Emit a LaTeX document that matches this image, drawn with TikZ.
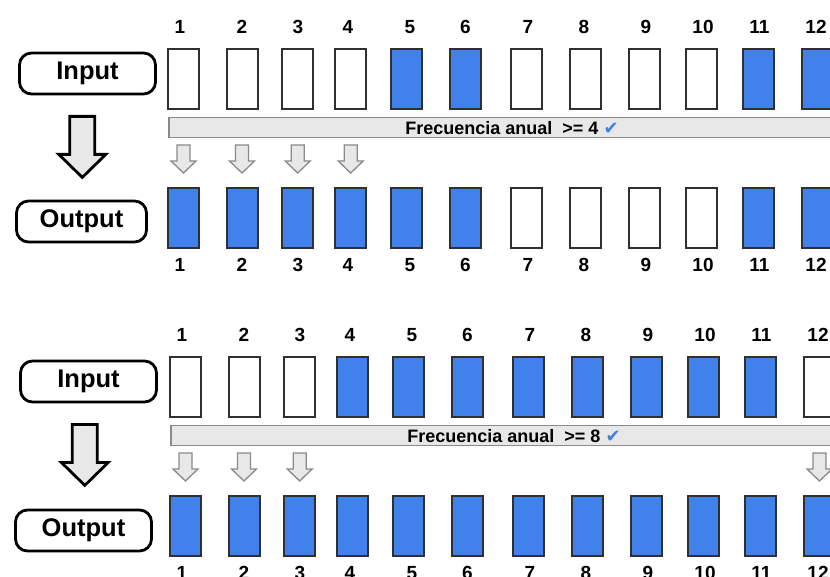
\documentclass[tikz,border=0pt]{standalone}
\usepackage{fontspec}
\setmainfont{Liberation Sans}
\newfontfamily\symfont{DejaVu Sans}
\usepackage{tikz}
\usetikzlibrary{calc}
\definecolor{slotblue}{HTML}{4181EC}
\definecolor{slotedge}{HTML}{303030}
\definecolor{barfill}{HTML}{E8E8E8}
\definecolor{baredge}{HTML}{8A8A8A}
\definecolor{tickblue}{HTML}{3F7FE6}
\newcommand{\okmark}{{\symfont\color{tickblue}\char"2714}}
\tikzset{
  slot/.style     = {rectangle, draw=slotedge, line width=2pt, fill=white,
                     minimum width=31pt, minimum height=60pt, inner sep=0pt},
  num/.style      = {font=\fontsize{19}{20}\selectfont\bfseries, inner sep=0pt,
                     text height=13.6pt, text depth=0pt},
  tag/.style      = {rectangle, rounded corners=12pt, draw=black, line width=2.8pt,
                     fill=white, minimum height=41pt, inner sep=0pt,
                     font=\fontsize{25.5}{28}\selectfont\bfseries},
  bar/.style      = {rectangle, draw=baredge, line width=1.5pt, fill=barfill,
                     minimum height=20pt, inner sep=0pt, anchor=west},
  bartext/.style  = {font=\fontsize{18}{19}\selectfont\bfseries, inner sep=0pt},
  bigarr/.style   = {draw=black, line width=2.8pt, fill=barfill, line join=miter},
  smallarr/.style = {draw=baredge, line width=1.3pt, fill=barfill},
}

\begin{document}
\begin{tikzpicture}[x=1pt,y=-1pt]
  \useasboundingbox (0,0) rectangle (830,577);
  % panel a: frecuencia anual >= 4
  \begin{scope}
    \node[tag, minimum width=136pt] (ain) at (87.5,73.5) {Input};
    \node[tag, minimum width=130pt] (aout) at (81.5,221.5) {Output};
    \draw[bigarr] (ain.south) ++(-17.7,21) -- ++(25,0) -- ++(0,38) -- ++(11,0)
      -- ++(-23.5,23) -- ++(-23.5,-23) -- ++(11,0) -- cycle;
    \node[bar, minimum width=680pt] (abar) at (168,127.5) {};
    \node[bartext] (alabel) at (512,128) {Frecuencia anual\ \ >= 4 \okmark};
    \foreach \i/\bx/\nx/\ci/\co in {1/183.5/180/white/slotblue, 2/242/242/white/slotblue,
        3/297.7/298/white/slotblue, 4/350.7/348/white/slotblue, 5/406.3/410/slotblue/slotblue,
        6/465/465.5/slotblue/slotblue, 7/526.3/528/white/white, 8/585.7/584/white/white,
        9/644.7/646/white/white, 10/701.5/703/white/white, 11/758/759.5/slotblue/slotblue,
        12/817.5/816/slotblue/slotblue}{
      \node[slot, fill=\ci] (ai\i) at (\bx,79) {};
      \node[slot, fill=\co] (ao\i) at (\bx,218) {};
      \node[num] (ani\i) at (\nx,26.5) {\i};
      \node[num] (ano\i) at (\nx,265) {\i};
    }
    \foreach \i in {1,2,3,4}{
      \draw[smallarr] (ai\i.south) ++(-6.5,35) -- ++(13,0) -- ++(0,16) -- ++(6,0)
        -- ++(-12.5,12) -- ++(-12.5,-12) -- ++(6,0) -- cycle;
    }
  \end{scope}
  % panel b: frecuencia anual >= 8
  \begin{scope}[shift={(2,308)}]
    \node[tag, minimum width=136pt] (bin) at (86.5,73.5) {Input};
    \node[tag, minimum width=136pt] (bout) at (81.5,222.5) {Output};
    \draw[bigarr] (bin.south) ++(-16.2,21) -- ++(25,0) -- ++(0,38) -- ++(11,0)
      -- ++(-23.5,23) -- ++(-23.5,-23) -- ++(11,0) -- cycle;
    \node[bar, minimum width=680pt] (bbar) at (168,127.5) {};
    \node[bartext] (blabel) at (512,128) {Frecuencia anual\ \ >= 8 \okmark};
    \foreach \i/\bx/\nx/\ci/\co in {1/183.5/180/white/slotblue, 2/242/242/white/slotblue,
        3/297.7/298/white/slotblue, 4/350.7/348/slotblue/slotblue, 5/406.3/410/slotblue/slotblue,
        6/465/465.5/slotblue/slotblue, 7/526.3/528/slotblue/slotblue, 8/585.7/584/slotblue/slotblue,
        9/644.7/646/slotblue/slotblue, 10/701.5/703/slotblue/slotblue, 11/758/759.5/slotblue/slotblue,
        12/817.5/816/white/slotblue}{
      \node[slot, fill=\ci] (bi\i) at (\bx,79) {};
      \node[slot, fill=\co] (bo\i) at (\bx,218) {};
      \node[num] (bni\i) at (\nx,26.5) {\i};
      \node[num] (bno\i) at (\nx,265) {\i};
    }
    \foreach \i in {1,2,3,12}{
      \draw[smallarr] (bi\i.south) ++(-6.5,35) -- ++(13,0) -- ++(0,16) -- ++(6,0)
        -- ++(-12.5,12) -- ++(-12.5,-12) -- ++(6,0) -- cycle;
    }
  \end{scope}
\end{tikzpicture}
\end{document}
